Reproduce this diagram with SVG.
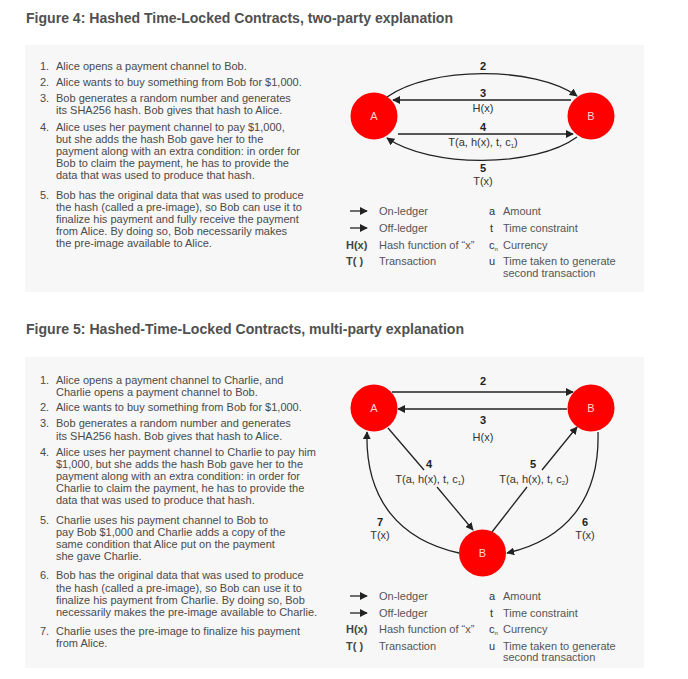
<svg xmlns="http://www.w3.org/2000/svg" width="688" height="679" viewBox="0 0 688 679">
<defs>
<style>
.title{font-family:"Liberation Sans",Arial,sans-serif;font-weight:900;font-size:14px;fill:#505050}
.body{font-family:"Liberation Sans",Arial,sans-serif;font-size:11px;fill:#4a4a4a}
.lbl{font-family:"Liberation Sans",Arial,sans-serif;font-size:11px;fill:#333;text-anchor:middle}
.num{font-family:"Liberation Sans",Arial,sans-serif;font-size:11px;font-weight:bold;fill:#222;text-anchor:middle}
.node{fill:#ff0000}
.nlbl{font-family:"Liberation Sans",Arial,sans-serif;font-size:11px;fill:#ffd6d6;text-anchor:middle}
.edge{fill:none;stroke:#222;stroke-width:1.3}
.leg{font-family:"Liberation Sans",Arial,sans-serif;font-size:11px;fill:#555}
.legb{font-family:"Liberation Sans",Arial,sans-serif;font-size:11px;font-weight:bold;fill:#444}
.legl{font-family:"Liberation Sans",Arial,sans-serif;font-size:11px;fill:#333}
.panel{fill:#f7f7f7}
</style>
<marker id="arr" viewBox="0 0 10 10" refX="9" refY="5" markerWidth="8" markerHeight="8" markerUnits="userSpaceOnUse" orient="auto">
<path d="M0,0 L10,5 L0,10 z" fill="#222"/>
</marker>
</defs>
<rect width="688" height="679" fill="#fff"/>

<!-- Figure 4 -->
<text class="title" x="26" y="23" textLength="427" lengthAdjust="spacingAndGlyphs">Figure 4: Hashed Time-Locked Contracts, two-party explanation</text>
<rect class="panel" x="25" y="45" width="619" height="247"/>
<g id="fig4-list" class="body">
<text x="40" y="70">1.</text><text x="56" y="70">Alice opens a payment channel to Bob.</text>
<text x="40" y="86">2.</text><text x="56" y="86">Alice wants to buy something from Bob for $1,000.</text>
<text x="40" y="102">3.</text><text x="56" y="102">Bob generates a random number and generates</text>
<text x="56" y="114">its SHA256 hash. Bob gives that hash to Alice.</text>
<text x="40" y="131">4.</text><text x="56" y="131">Alice uses her payment channel to pay $1,000,</text>
<text x="56" y="143">but she adds the hash Bob gave her to the</text>
<text x="56" y="155">payment along with an extra condition: in order for</text>
<text x="56" y="167">Bob to claim the payment, he has to provide the</text>
<text x="56" y="179">data that was used to produce that hash.</text>
<text x="40" y="199">5.</text><text x="56" y="199">Bob has the original data that was used to produce</text>
<text x="56" y="211">the hash (called a pre-image), so Bob can use it to</text>
<text x="56" y="223">finalize his payment and fully receive the payment</text>
<text x="56" y="235">from Alice. By doing so, Bob necessarily makes</text>
<text x="56" y="247">the pre-image available to Alice.</text>
</g>

<g id="fig4-edges">
<path class="edge" d="M387,97 C430,66 535,66 577,96" marker-end="url(#arr)"/>
<path class="edge" d="M571,100 L393,100" marker-end="url(#arr)"/>
<path class="edge" d="M398,134 L573,134" marker-end="url(#arr)"/>
<path class="edge" d="M577,137 C535,168 430,168 387,138" marker-end="url(#arr)"/>
<text class="num" x="483" y="70">2</text>
<text class="num" x="483" y="97">3</text>
<text class="lbl" x="483" y="112">H(x)</text>
<text class="num" x="483" y="131">4</text>
<text class="lbl" x="483" y="146">T(a, h(x), t, c<tspan font-size="6" dy="2">1</tspan><tspan dy="-2">)</tspan></text>
<text class="num" x="483" y="172">5</text>
<text class="lbl" x="483" y="185">T(x)</text>
</g>
<g id="fig4-A"><circle class="node" cx="374" cy="116" r="23.5"/><text class="nlbl" x="374" y="120">A</text></g>
<g id="fig4-B"><circle class="node" cx="591" cy="116" r="23.5"/><text class="nlbl" x="591" y="120">B</text></g>

<g id="fig4-legend">
<path class="edge" d="M350,211 L367,211" marker-end="url(#arr)"/>
<path class="edge" d="M350,228 L367,228" marker-end="url(#arr)"/>
<text class="leg" x="379" y="215">On-ledger</text>
<text class="leg" x="379" y="232">Off-ledger</text>
<text class="legb" x="346" y="249">H(x)</text><text class="leg" x="379" y="249">Hash function of “x”</text>
<text class="legb" x="346" y="265">T( )</text><text class="leg" x="379" y="265">Transaction</text>
<text class="legl" x="489" y="215">a</text><text class="leg" x="503" y="215">Amount</text>
<text class="legl" x="490" y="232">t</text><text class="leg" x="503" y="232">Time constraint</text>
<text class="legl" x="489" y="249">c<tspan font-size="6" dy="2">n</tspan></text><text class="leg" x="503" y="249">Currency</text>
<text class="legl" x="489" y="265">u</text><text class="leg" x="503" y="265">Time taken to generate</text>
<text class="leg" x="503" y="277">second transaction</text>
</g>

<!-- Figure 5 -->
<text class="title" x="26" y="334" textLength="438" lengthAdjust="spacingAndGlyphs">Figure 5: Hashed-Time-Locked Contracts, multi-party explanation</text>
<rect class="panel" x="25" y="357" width="619" height="311"/>
<g id="fig5-list" class="body">
<text x="40" y="384">1.</text><text x="56" y="384">Alice opens a payment channel to Charlie, and</text>
<text x="56" y="396">Charlie opens a payment channel to Bob.</text>
<text x="40" y="411">2.</text><text x="56" y="411">Alice wants to buy something from Bob for $1,000.</text>
<text x="40" y="427">3.</text><text x="56" y="427">Bob generates a random number and generates</text>
<text x="56" y="440">its SHA256 hash. Bob gives that hash to Alice.</text>
<text x="40" y="456">4.</text><text x="56" y="456">Alice uses her payment channel to Charlie to pay him</text>
<text x="56" y="468">$1,000, but she adds the hash Bob gave her to the</text>
<text x="56" y="480">payment along with an extra condition: in order for</text>
<text x="56" y="492">Charlie to claim the payment, he has to provide the</text>
<text x="56" y="504">data that was used to produce that hash.</text>
<text x="40" y="524">5.</text><text x="56" y="524">Charlie uses his payment channel to Bob to</text>
<text x="56" y="536">pay Bob $1,000 and Charlie adds a copy of the</text>
<text x="56" y="548">same condition that Alice put on the payment</text>
<text x="56" y="560">she gave Charlie.</text>
<text x="40" y="579">6.</text><text x="56" y="579">Bob has the original data that was used to produce</text>
<text x="56" y="592">the hash (called a pre-image), so Bob can use it to</text>
<text x="56" y="604">finalize his payment from Charlie. By doing so, Bob</text>
<text x="56" y="616">necessarily makes the pre-image available to Charlie.</text>
<text x="40" y="635">7.</text><text x="56" y="635">Charlie uses the pre-image to finalize his payment</text>
<text x="56" y="647">from Alice.</text>
</g>

<g id="fig5-edges">
<path class="edge" d="M392,392 L573,392" marker-end="url(#arr)"/>
<path class="edge" d="M567,409 L398,409" marker-end="url(#arr)"/>
<path class="edge" d="M388,428 L424,470"/>
<path class="edge" d="M437,487 L473,530" marker-end="url(#arr)"/>
<path class="edge" d="M492,532 L527,487"/>
<path class="edge" d="M542,470 L577,427" marker-end="url(#arr)"/>
<path class="edge" d="M598,432 C600,500 565,540 507,553" marker-end="url(#arr)"/>
<path class="edge" d="M459,553 C400,540 365,500 367,432" marker-end="url(#arr)"/>
<text class="num" x="483" y="385">2</text>
<text class="num" x="483" y="424">3</text>
<text class="lbl" x="483" y="441">H(x)</text>
<text class="num" x="429" y="468">4</text>
<text class="lbl" x="430" y="483">T(a, h(x), t, c<tspan font-size="6" dy="2">1</tspan><tspan dy="-2">)</tspan></text>
<text class="num" x="533" y="468">5</text>
<text class="lbl" x="534" y="483">T(a, h(x), t, c<tspan font-size="6" dy="2">2</tspan><tspan dy="-2">)</tspan></text>
<text class="num" x="380" y="526">7</text>
<text class="lbl" x="380" y="539">T(x)</text>
<text class="num" x="585" y="526">6</text>
<text class="lbl" x="585" y="539">T(x)</text>
</g>
<g id="fig5-A"><circle class="node" cx="374" cy="408" r="23.5"/><text class="nlbl" x="374" y="412">A</text></g>
<g id="fig5-B"><circle class="node" cx="591" cy="408" r="23.5"/><text class="nlbl" x="591" y="412">B</text></g>
<g id="fig5-Bbottom"><circle class="node" cx="482.5" cy="553" r="23.5"/><text class="nlbl" x="482.5" y="557">B</text></g>

<g id="fig5-legend">
<path class="edge" d="M350,596 L367,596" marker-end="url(#arr)"/>
<path class="edge" d="M350,613 L367,613" marker-end="url(#arr)"/>
<text class="leg" x="379" y="600">On-ledger</text>
<text class="leg" x="379" y="617">Off-ledger</text>
<text class="legb" x="346" y="633">H(x)</text><text class="leg" x="379" y="633">Hash function of “x”</text>
<text class="legb" x="346" y="650">T( )</text><text class="leg" x="379" y="650">Transaction</text>
<text class="legl" x="489" y="600">a</text><text class="leg" x="503" y="600">Amount</text>
<text class="legl" x="490" y="617">t</text><text class="leg" x="503" y="617">Time constraint</text>
<text class="legl" x="489" y="633">c<tspan font-size="6" dy="2">n</tspan></text><text class="leg" x="503" y="633">Currency</text>
<text class="legl" x="489" y="650">u</text><text class="leg" x="503" y="650">Time taken to generate</text>
<text class="leg" x="503" y="661">second transaction</text>
</g>
</svg>
